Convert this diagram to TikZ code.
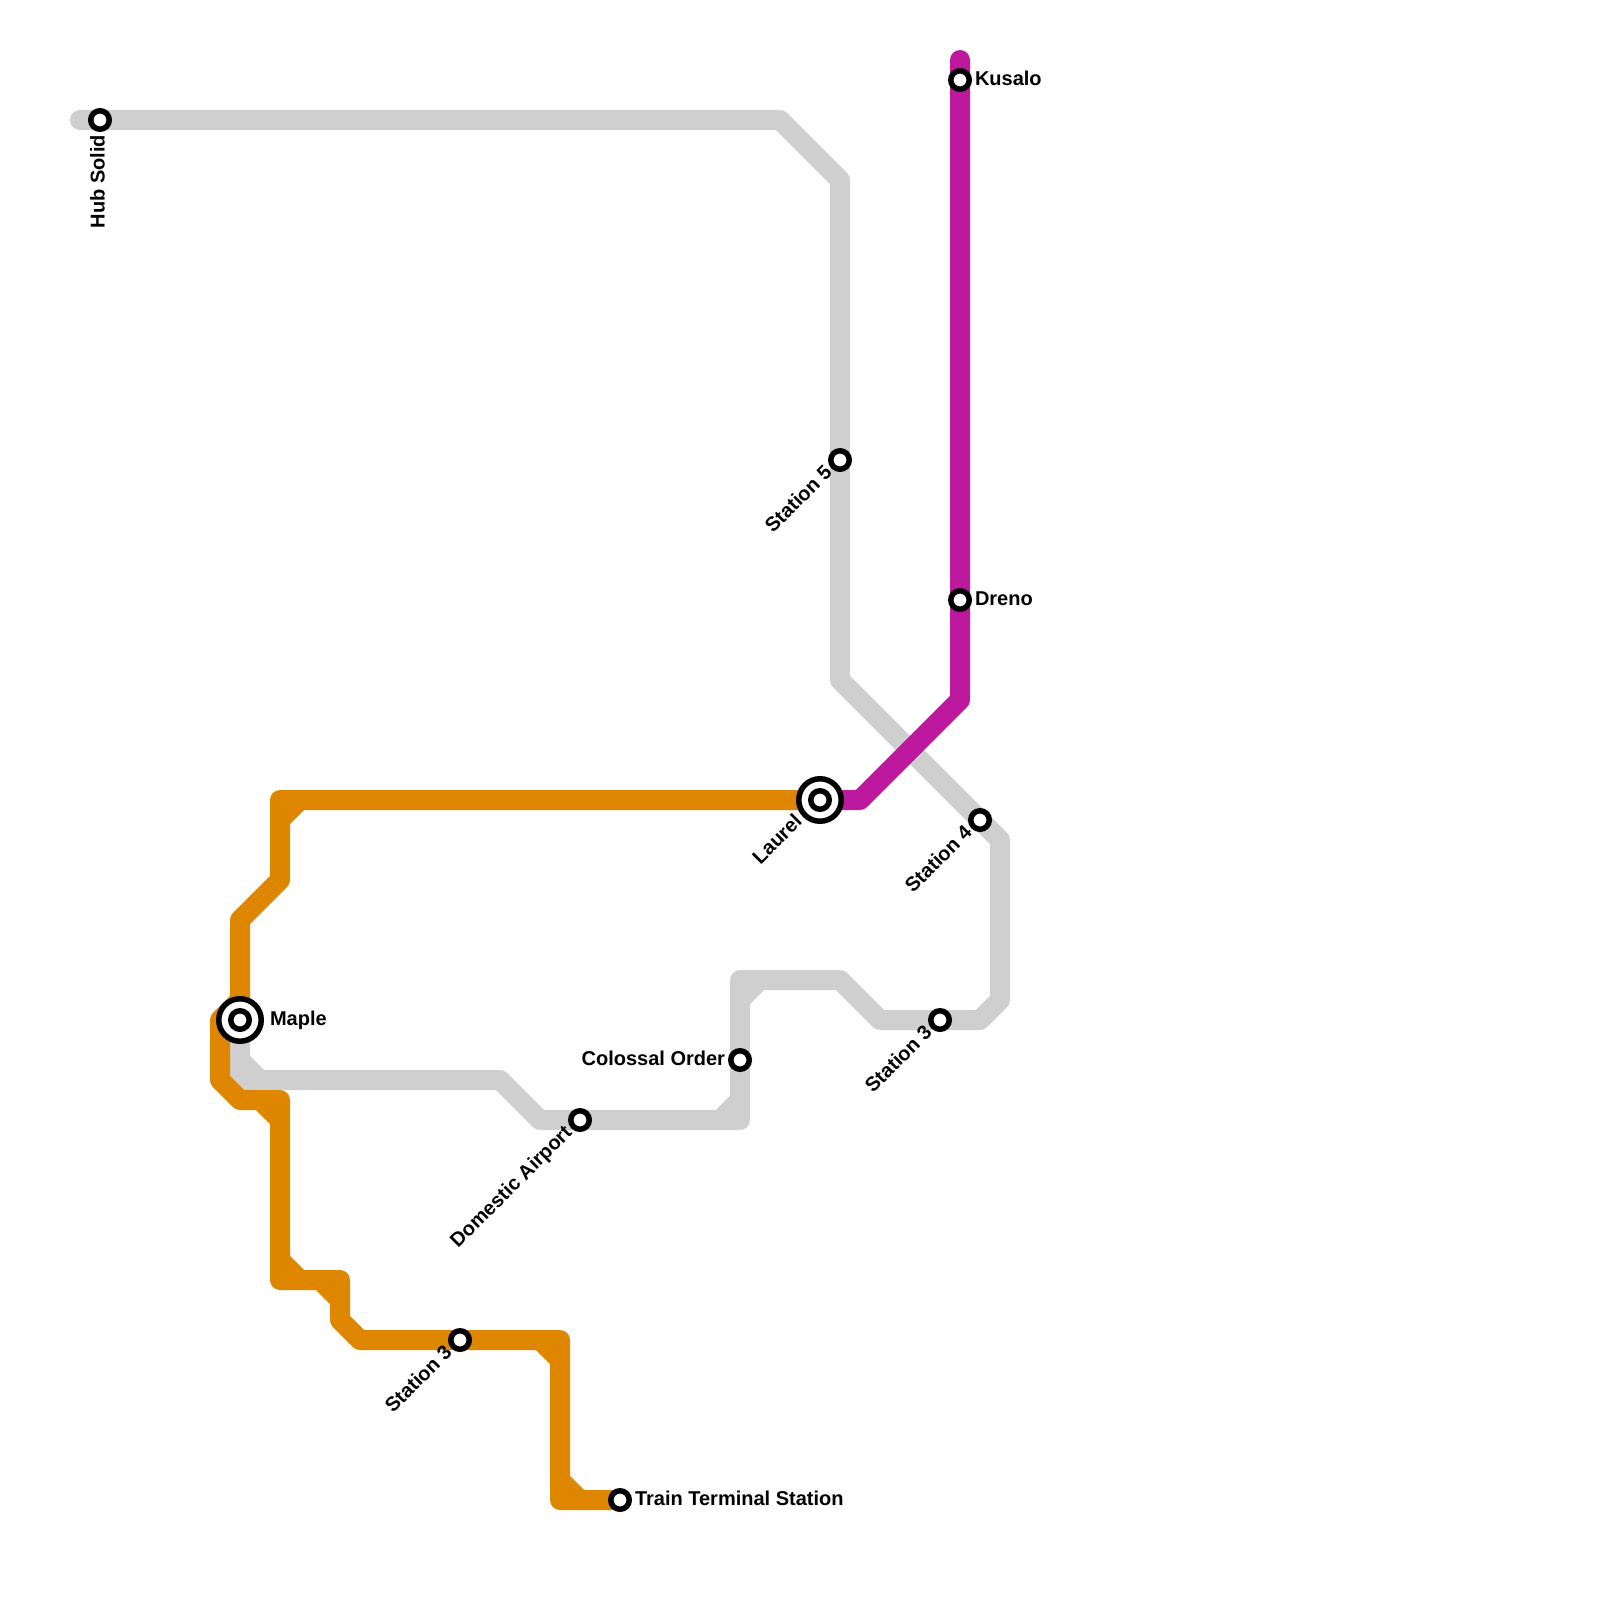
\documentclass[tikz,border=0pt]{standalone}
\usepackage{fontspec}
\usetikzlibrary{calc}
\setmainfont{Liberation Sans}[BoldFont={Liberation Sans Bold}]
\definecolor{lgray}{RGB}{207,207,207}
\definecolor{lorange}{RGB}{223,134,0}
\definecolor{lmag}{RGB}{189,25,159}
\tikzset{
  metro/.style={line width=20pt,line join=round},
  fillrA/.style={line width=20pt,line cap=butt},
  stop/.style={circle,draw=black,fill=white,line width=5.5pt,minimum size=18.5pt,inner sep=0pt,outer sep=0pt},
  hubring/.style={circle,draw=black,fill=white,line width=5.5pt,minimum size=42.5pt,inner sep=0pt,outer sep=0pt},
  lbl/.style={inner sep=0pt,outer sep=0pt,font=\fontsize{20}{20}\selectfont\bfseries,text=black,text height=14pt,text depth=0pt},
}
\begin{document}
\begin{tikzpicture}[x=1pt,y=-1pt]
\useasboundingbox (0,0) rectangle (1600,1600);
% station positions
\coordinate (hub) at (100,120);
\coordinate (st5) at (840,460);
\coordinate (st4) at (980,820);
\coordinate (st3r) at (940,1020);
\coordinate (col) at (740,1060);
\coordinate (dom) at (580,1120);
\coordinate (map) at (240,1020);
\coordinate (lau) at (820,800);
\coordinate (kus) at (960,80);
\coordinate (dre) at (960,600);
\coordinate (st3l) at (460,1340);
\coordinate (trn) at (620,1500);
\coordinate (magtop) at (960,60);
\coordinate (graystart) at (80,120);
% gray line
\draw[metro,lgray,line cap=round] (graystart) -- (780,120) -- (840,180) -- (st5) -- (840,680) -- (st4) -- (1000,840) -- (1000,1000) -- (980,1020) -- (st3r) -- (880,1020) -- (840,980) -- (740,980) -- (col) -- (740,1120) -- (dom) -- (540,1120) -- (500,1080) -- (240,1080) -- (map);
\draw[fillrA,lgray] (740,1000) -- (760,980);
\draw[fillrA,lgray] (720,1120) -- (740,1100);
\draw[fillrA,lgray] (240,1060) -- (260,1080);
% magenta line
\draw[metro,lmag,line cap=round] (magtop) -- (kus) -- (dre) -- (960,700) -- (860,800) -- (lau);
% orange line
\draw[metro,lorange,line cap=round] (lau) -- (280,800) -- (280,880) -- (240,920) -- (240,1000) -- (220,1020) -- (220,1080) -- (240,1100) -- (280,1100) -- (280,1280) -- (340,1280) -- (340,1320) -- (360,1340) -- (st3l) -- (560,1340) -- (560,1500) -- (trn);
\draw[fillrA,lorange] (280,820) -- (300,800);
\draw[fillrA,lorange] (260,1100) -- (280,1120);
\draw[fillrA,lorange] (280,1260) -- (300,1280);
\draw[fillrA,lorange] (320,1280) -- (340,1300);
\draw[fillrA,lorange] (540,1340) -- (560,1360);
\draw[fillrA,lorange] (560,1480) -- (580,1500);
% stations
\foreach \p in {hub,st5,st4,st3r,col,dom,kus,dre,st3l,trn}{\node[stop] (n\p) at (\p) {};}
\node[hubring] (nmapo) at (map) {};
\node[stop] (nmap) at (map) {};
\node[hubring] (nlauo) at (lau) {};
\node[stop] (nlau) at (lau) {};
% labels
\node[lbl,anchor=east,rotate=90] (thub) at ($(hub)+(-2.5,15)$) {Hub Solid};
\node[lbl,anchor=east,rotate=45] (tst5) at ($(st5)+(-12,9)$) {Station 5};
\node[lbl,anchor=east,rotate=45] (tst4) at ($(st4)+(-12,9)$) {Station 4};
\node[lbl,anchor=east,rotate=45] (tst3r) at ($(st3r)+(-12,9)$) {Station 3};
\node[lbl,anchor=east,rotate=45] (tst3l) at ($(st3l)+(-12,9)$) {Station 3};
\node[lbl,anchor=east,rotate=45] (tdom) at ($(dom)+(-12,9)$) {Domestic Airport};
\node[lbl,anchor=east,rotate=45] (tlau) at ($(lau)+(-22,18)$) {Laurel};
\node[lbl,anchor=east] (tcol) at ($(col)+(-15,-2)$) {Colossal Order};
\node[lbl,anchor=west] (tkus) at ($(kus)+(15,-1)$) {Kusalo};
\node[lbl,anchor=west] (tdre) at ($(dre)+(15,-2)$) {Dreno};
\node[lbl,anchor=west] (ttrn) at ($(trn)+(15,-2)$) {Train Terminal Station};
\node[lbl,anchor=west] (tmap) at ($(map)+(30,-2)$) {Maple};
\end{tikzpicture}
\end{document}
